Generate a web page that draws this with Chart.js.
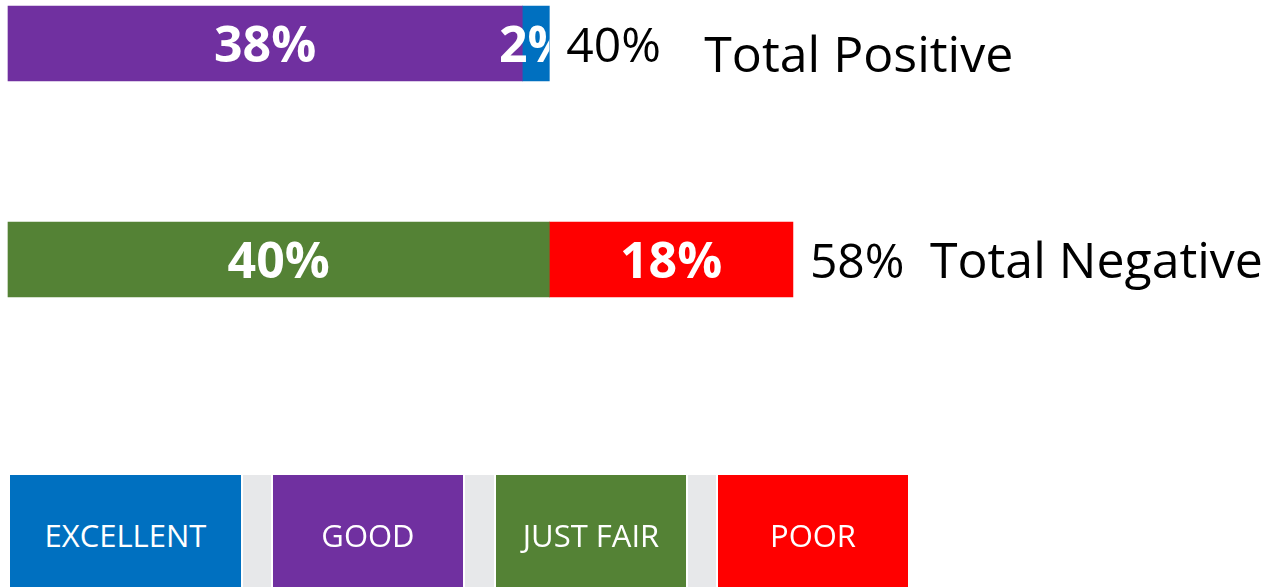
<!DOCTYPE html>
<html>
<head>
<meta charset="utf-8">
<script src="https://cdn.jsdelivr.net/npm/chart.js@4/dist/chart.umd.min.js"></script>
<style>
  body { margin: 0; background: #fff; overflow: hidden; }
  #wrap { position: relative; width: 1272px; height: 587px; }
  #chart { position: absolute; left: 0; top: 0; }
  .key { position: absolute; top: 475px; height: 112px; color: #fff; box-sizing: border-box; padding-top: 8px;
         font-family: "Open Sans", sans-serif; font-size: 31px;
         display: flex; align-items: center; justify-content: center; }
  .gap { position: absolute; top: 475px; height: 112px; background: #e7e8ea; }
</style>
</head>
<body>
<div id="wrap">
  <canvas id="chart" width="1272" height="587"></canvas>
</div>
<script>
// rows of the chart
const rows = ['Positive', 'Negative'];
const totalNames = ['Total Positive', 'Total Negative'];

// series (percent)
const goodValues = [38, null];
const excellentValues = [2, null];
const justFairValues = [null, 40];
const poorValues = [null, 18];

// legend boxes, in the order shown under the chart
const legendLabels = ['EXCELLENT', 'GOOD', 'JUST FAIR', 'POOR'];

const colors = {
    excellent: '#0070C0',
    good: '#7030A0',
    justFair: '#548235',
    poor: '#FF0000'
};

// where the legend boxes sit (left, width)
const legendBoxes = [[10, 231], [273, 190], [496, 190], [718, 190]];
const legendColors = [colors.excellent, colors.good, colors.justFair, colors.poor];

// build legend
const wrap = document.getElementById('wrap');
legendBoxes.forEach((b, i) => {
    if (i > 0) {
        const g = document.createElement('div');
        g.className = 'gap';
        const prevEnd = legendBoxes[i - 1][0] + legendBoxes[i - 1][1];
        g.style.left = (prevEnd + 2) + 'px';
        g.style.width = (b[0] - prevEnd - 4) + 'px';
        wrap.appendChild(g);
    }
    const d = document.createElement('div');
    d.className = 'key';
    d.style.left = b[0] + 'px';
    d.style.width = b[1] + 'px';
    d.style.background = legendColors[i];
    d.textContent = legendLabels[i];
    wrap.appendChild(d);
});

// label offsets for the "Total ..." text, measured from the total's start
const nameOffset = [138, 120];
const nameDrop = [10, 0];

const labelPlugin = {
    id: 'barLabels',
    afterDatasetsDraw(chart) {
        const ctx = chart.ctx;
        const xs = chart.scales.x;
        const ys = chart.scales.y;
        rows.forEach((r, i) => {
            let total = 0;
            chart.data.datasets.forEach(ds => { total += ds.data[i] || 0; });
            const endX = xs.getPixelForValue(total);
            const y = ys.getPixelForValue(i);
            chart.data.datasets.forEach((ds, d) => {
                if (!ds.data[i]) return;
                const el = chart.getDatasetMeta(d).data[i];
                ctx.save();
                ctx.beginPath();
                ctx.rect(chart.chartArea.left, el.y - el.height / 2, endX - chart.chartArea.left, el.height);
                ctx.clip();
                ctx.fillStyle = '#fff';
                ctx.font = 'bold 50px "Open Sans"';
                ctx.textAlign = 'center';
                ctx.textBaseline = 'alphabetic';
                ctx.fillText(ds.data[i] + '%', (el.x + el.base) / 2, el.y + 18);
                ctx.restore();
            });
            ctx.save();
            ctx.fillStyle = '#000';
            ctx.textAlign = 'left';
            ctx.textBaseline = 'alphabetic';
            ctx.font = '48px "Open Sans"';
            const tx = endX + 17;
            ctx.fillText(total + '%', tx, y + 18);
            ctx.font = '50px "Open Sans"';
            ctx.fillText(totalNames[i], tx + nameOffset[i], y + 18 + nameDrop[i]);
            ctx.restore();
        });
    }
};

function makeSet(label, data, color) {
    return {
        label: label,
        data: data,
        backgroundColor: color,
        borderWidth: 0,
        barThickness: 75,
        clip: false
    };
}

new Chart(document.getElementById('chart'), {
    type: 'bar',
    data: {
        labels: rows,
        datasets: [
            makeSet('Good', goodValues, colors.good),
            makeSet('Excellent', excellentValues, colors.excellent),
            makeSet('Just Fair', justFairValues, colors.justFair),
            makeSet('Poor', poorValues, colors.poor)
        ]
    },
    options: {
        indexAxis: 'y',
        responsive: false,
        animation: false,
        layout: { padding: { left: 8, right: 0, top: 43.5, bottom: 327.5 } },
        plugins: { legend: { display: false }, tooltip: { enabled: false } },
        scales: {
            x: { stacked: true, min: 0, max: 93.4, display: false },
            y: { stacked: true, offset: false, display: false }
        }
    },
    plugins: [labelPlugin]
});
</script>
</body>
</html>
